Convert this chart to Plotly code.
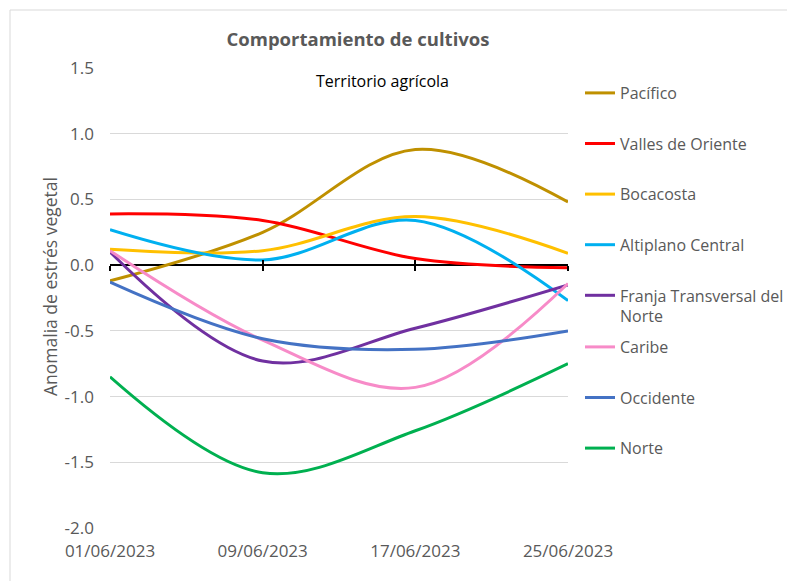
import plotly.graph_objects as go

# ---- data ----
dates = ["2023-06-01", "2023-06-09", "2023-06-17", "2023-06-25"]
tick_labels = ["01/06/2023", "09/06/2023", "17/06/2023", "25/06/2023"]

pacifico = [-0.12, 0.25, 0.88, 0.48]
valles_oriente = [0.39, 0.34, 0.05, -0.02]
bocacosta = [0.12, 0.11, 0.37, 0.09]
altiplano_central = [0.27, 0.04, 0.34, -0.27]
franja_transversal = [0.10, -0.73, -0.48, -0.15]
caribe = [0.11, -0.57, -0.93, -0.14]
occidente = [-0.13, -0.56, -0.64, -0.50]
norte = [-0.85, -1.58, -1.26, -0.75]

y_ticks = [1.5, 1.0, 0.5, 0.0, -0.5, -1.0, -1.5, -2.0]
y_tick_labels = [f"{v:.1f}" for v in y_ticks]

series = [
    ("Pacífico", pacifico, "#BF9000", "legend"),
    ("Valles de Oriente", valles_oriente, "#FF0000", "legend"),
    ("Bocacosta", bocacosta, "#FFC000", "legend"),
    ("Altiplano Central", altiplano_central, "#00B0F0", "legend"),
    ("Franja Transversal del<br>Norte", franja_transversal, "#7030A0", "legend"),
    ("Caribe", caribe, "#F78BC8", "legend2"),
    ("Occidente", occidente, "#4472C4", "legend2"),
    ("Norte", norte, "#00B050", "legend2"),
]

FONT = "Open Sans"
GRAY = "#595959"

# page body has an 8px margin: compensate so the plot lands where the reference has it
OFF = 8
W, H = 815, 581          # a bit wider than the window so the legend never forces automargin
PL, PR, PT, PB = 110, 568, 68, 528  # plot area in screen pixels
PW, PH = PR - PL, PB - PT


def px_x(x):
    return (x - PL) / PW


def px_y(y):
    return (PB - y) / PH


fig = go.Figure()
for i, (name, vals, color, lg) in enumerate(series):
    fig.add_trace(go.Scatter(
        x=dates, y=vals, name=name, mode="lines",
        line=dict(color=color, width=3, shape="spline", smoothing=1.0),
        legend=lg, legendgroup=f"g{i}",
    ))

# invisible helper traces so the tick-mark axes at y=0 are drawn
for ax in ["x2", "x3"]:
    fig.add_trace(go.Scatter(x=dates, y=[None] * len(dates), xaxis=ax,
                             showlegend=False, hoverinfo="skip", mode="lines"))

y_min, y_max = y_ticks[-1], y_ticks[0]
zero_pos = (0 - y_min) / (y_max - y_min)

tick_axis = dict(
    type="date", overlaying="x", anchor="free", position=zero_pos,
    range=[dates[0], dates[-1]], tickvals=dates, showticklabels=False,
    showgrid=False, zeroline=False, showline=False,
    ticklen=5, tickwidth=1.5, tickcolor="black",
)

legend_common = dict(
    xanchor="left", yanchor="top",
    font=dict(family=FONT, size=16, color=GRAY),
    tracegroupgap=26.8, valign="top", bgcolor="rgba(0,0,0,0)",
)

fig.update_layout(
    width=W, height=H,
    margin=dict(l=PL - OFF, r=W - (PR - OFF), t=PT - OFF, b=H - (PB - OFF)),
    paper_bgcolor="white", plot_bgcolor="white",
    font=dict(family=FONT, color=GRAY),
    title=dict(text="<b>Comportamiento de cultivos</b>", x=(358 - OFF) / W, xanchor="center",
               y=1 - (40 - OFF) / H, yanchor="middle",
               font=dict(family=FONT, size=18.5, color=GRAY)),
    xaxis=dict(
        type="date", range=[dates[0], dates[-1]], tickvals=dates, ticktext=tick_labels,
        showgrid=False, zeroline=False, showline=False, ticks="",
        ticklabelstandoff=11, tickfont=dict(family=FONT, size=17, color=GRAY),
    ),
    xaxis2=dict(tick_axis, ticks="outside"),
    xaxis3=dict(tick_axis, ticks="inside"),
    yaxis=dict(
        range=[y_min, y_max], tickvals=y_ticks, ticktext=y_tick_labels,
        showgrid=True, gridcolor="#D9D9D9", gridwidth=1,
        zeroline=True, zerolinecolor="black", zerolinewidth=1.5,
        showline=False, ticks="", ticklabelstandoff=15,
        tickfont=dict(family=FONT, size=17, color=GRAY),
    ),
    legend=dict(legend_common, x=px_x(580), y=px_y(76)),
    legend2=dict(legend_common, x=px_x(580), y=px_y(330)),
    annotations=[
        dict(text="Territorio agrícola", xref="paper", yref="paper",
             x=px_x(382), y=px_y(81), xanchor="center", yanchor="middle",
             showarrow=False, font=dict(family=FONT, size=16, color="black")),
        dict(text="Anomalia de estrés vegetal", xref="paper", yref="paper",
             x=px_x(50), y=px_y(287), xanchor="center", yanchor="middle",
             textangle=-90, showarrow=False,
             font=dict(family=FONT, size=17.5, color=GRAY)),
    ],
    shapes=[
        dict(type="line", xref="paper", yref="paper",
             x0=px_x(10), x1=px_x(W + OFF), y0=px_y(10), y1=px_y(10),
             line=dict(color="#D9D9D9", width=1)),
        dict(type="line", xref="paper", yref="paper",
             x0=px_x(10), x1=px_x(10), y0=px_y(10), y1=px_y(H + OFF),
             line=dict(color="#D9D9D9", width=1)),
    ],
    showlegend=True,
)

fig.write_html("out.html")
